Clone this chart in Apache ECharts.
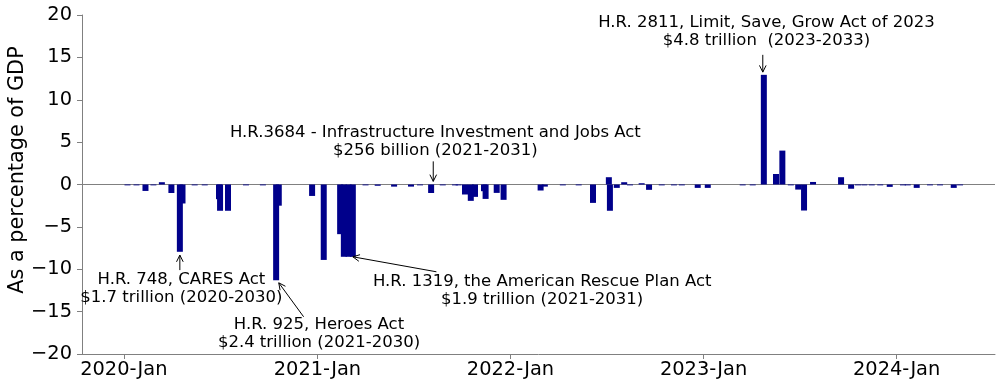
<!DOCTYPE html>
<html>
<head>
<meta charset="utf-8">
<script src="https://cdn.jsdelivr.net/npm/echarts@6/dist/echarts.min.js"></script>
<style>
  html, body { margin: 0; padding: 0; background: #ffffff; }
  #chart { width: 996px; height: 383px; }
</style>
</head>
<body>
<div id="chart"></div>
<script>
// Budgetary effect of enacted / passed bills, by date of cost estimate (% of GDP)
const billDates = [
  '2020-01-08', '2020-01-25', '2020-02-11', '2020-02-26', '2020-03-13', '2020-03-31',
  '2020-04-16', '2020-04-21', '2020-05-14', '2020-06-02', '2020-06-29', '2020-07-01',
  '2020-07-16', '2020-08-19', '2020-09-20', '2020-10-15', '2020-10-20', '2020-12-22',
  '2021-01-13', '2021-02-13', '2021-02-20', '2021-03-01', '2021-03-09', '2021-04-02',
  '2021-04-25', '2021-05-26', '2021-06-27', '2021-07-14', '2021-08-04', '2021-08-26',
  '2021-09-18', '2021-09-25', '2021-10-07', '2021-10-18', '2021-10-26', '2021-11-12',
  '2021-11-15', '2021-12-06', '2021-12-19', '2022-02-27', '2022-03-07', '2022-04-10',
  '2022-05-10', '2022-06-06', '2022-07-06', '2022-07-08', '2022-07-21', '2022-08-04',
  '2022-08-15', '2022-09-06', '2022-09-20', '2022-10-14', '2022-11-06', '2022-11-21',
  '2022-12-21', '2023-01-09', '2023-03-16', '2023-04-04', '2023-04-25', '2023-05-18',
  '2023-05-30', '2023-06-15', '2023-06-29', '2023-07-10', '2023-07-27', '2023-09-18',
  '2023-10-07', '2023-10-20', '2023-11-01', '2023-11-15', '2023-12-01', '2023-12-19',
  '2024-01-13', '2024-01-22', '2024-02-08', '2024-03-04', '2024-03-23', '2024-04-18',
  '2024-04-30'
];
const billShares = [
  -0.1, -0.1, -0.76, -0.1, 0.27, -1.0,
  -7.94, -2.24, -0.1, -0.1, -1.73, -3.1,
  -3.1, -0.1, -0.1, -11.3, -2.5, -1.35,
  -8.9, -5.86, -8.53, -8.53, -8.53, -0.1,
  -0.15, -0.25, -0.25, -0.1, -1.0, -0.1,
  -0.1, -0.1, -1.18, -1.93, -1.46, -0.79,
  -1.7, -0.99, -1.81, -0.71, -0.25, -0.1,
  -0.1, -2.17, 0.86, -3.1, -0.4, 0.27,
  -0.1, 0.15, -0.63, -0.1, -0.1, -0.1,
  -0.4, -0.4, -0.1, -0.1, 12.94, 1.24,
  4.0, -0.1, -0.6, -3.07, 0.3, 0.86,
  -0.5, -0.1, -0.1, -0.1, -0.1, -0.28,
  -0.1, -0.1, -0.4, -0.1, -0.1, -0.4,
  -0.1
];

// Axis extents and ticks
const xStart = '2019-10-14';
const xEnd = '2024-07-05';
const yearTicks = ['2020-01-01', '2021-01-01', '2022-01-01', '2023-01-01', '2024-01-01'];
const yMin = -20, yMax = 20, yStep = 5;

// Annotations: text, text centre, arrow tail, arrow tip (date, % of GDP)
const noteTexts = [
  'H.R. 748, CARES Act\n$1.7 trillion (2020-2030)',
  'H.R. 925, Heroes Act\n$2.4 trillion (2021-2030)',
  'H.R. 1319, the American Rescue Plan Act\n$1.9 trillion (2021-2031)',
  'H.R.3684 - Infrastructure Investment and Jobs Act\n$256 billion (2021-2031)',
  'H.R. 2811, Limit, Save, Grow Act of 2023\n$4.8 trillion  (2023-2033)'
];
const noteCentres = [
  ['2020-04-19', -12.34],
  ['2021-01-04', -17.66],
  ['2022-03-02', -12.52],
  ['2021-08-12', 5.06],
  ['2023-04-30', 18.02]
];
const arrowTails = [
  ['2020-04-16', -10.1],
  ['2020-12-06', -15.61],
  ['2021-08-14', -10.3],
  ['2021-08-08', 2.73],
  ['2023-04-23', 15.3]
];
const arrowTips = [
  ['2020-04-16', -8.33],
  ['2020-10-20', -11.6],
  ['2021-03-09', -8.53],
  ['2021-08-08', 0.37],
  ['2023-04-23', 13.26]
];

const FONT = 'DejaVu Sans';
const AXIS_GREY = '#808080';
const BAR_BLUE = '#00008b';
const DAY = 86400000;
// Dates are placed on a linear (millisecond) axis, UTC midnight
const t = (s) => Date.UTC(+s.slice(0, 4), +s.slice(5, 7) - 1, +s.slice(8, 10));

const chart = echarts.init(document.getElementById('chart'), null, { renderer: 'canvas' });

const barData = billDates.map((d, i) => [t(d), billShares[i]]);
const noteData = noteTexts.map((_, i) => [
  t(noteCentres[i][0]), noteCentres[i][1],
  t(arrowTails[i][0]), arrowTails[i][1],
  t(arrowTips[i][0]), arrowTips[i][1]
]);
const yearTickValues = yearTicks.map(t);

function drawNote(params, api) {
  const i = params.dataIndex;
  const c = api.coord([api.value(0), api.value(1)]);
  const a = api.coord([api.value(2), api.value(3)]);
  const b = api.coord([api.value(4), api.value(5)]);
  const ang = Math.atan2(b[1] - a[1], b[0] - a[0]);
  const headLen = 7.5, headAng = 0.46;
  const h1 = [b[0] - headLen * Math.cos(ang - headAng), b[1] - headLen * Math.sin(ang - headAng)];
  const h2 = [b[0] - headLen * Math.cos(ang + headAng), b[1] - headLen * Math.sin(ang + headAng)];
  return {
    type: 'group',
    children: [
      { type: 'line', shape: { x1: a[0], y1: a[1], x2: b[0], y2: b[1] },
        style: { stroke: '#000', lineWidth: 1 } },
      { type: 'polyline', shape: { points: [h1, b, h2] },
        style: { stroke: '#000', lineWidth: 1, fill: null } },
      { type: 'text', x: c[0], y: c[1],
        style: { text: noteTexts[i], fill: '#000', fontFamily: FONT, fontSize: 16.5,
                 lineHeight: 18, align: 'center', verticalAlign: 'middle' } }
    ]
  };
}

chart.setOption({
  animation: false,
  backgroundColor: '#ffffff',
  textStyle: { fontFamily: FONT },
  grid: { left: 82, right: 1, top: 15, bottom: 29, containLabel: false },
  graphic: [{
    type: 'text', x: 18, y: 170, rotation: Math.PI / 2,
    style: { text: 'As a percentage of GDP', fill: '#000', fontFamily: FONT, fontSize: 20.8,
             align: 'center', verticalAlign: 'middle' }
  }],
  xAxis: {
    type: 'value',
    min: t(xStart),
    max: t(xEnd),
    axisLine: { show: true, onZero: false, lineStyle: { color: AXIS_GREY, width: 1 } },
    axisTick: { show: true, length: 5, lineStyle: { color: AXIS_GREY },
                customValues: yearTickValues },
    axisLabel: {
      show: true, customValues: yearTickValues, showMinLabel: true, showMaxLabel: true,
      color: '#000', fontFamily: FONT, fontSize: 19.4, margin: 6,
      formatter: (v) => new Date(v).getUTCFullYear() + '-Jan'
    },
    splitLine: { show: false }
  },
  yAxis: {
    type: 'value',
    min: yMin, max: yMax, interval: yStep,
    axisLine: { show: true, lineStyle: { color: AXIS_GREY, width: 1 } },
    axisTick: { show: true, length: 5, lineStyle: { color: AXIS_GREY } },
    axisLabel: {
      color: '#000', fontFamily: FONT, fontSize: 19.4, margin: 10,
      formatter: (v) => String(v).replace('-', '\u2212')
    },
    splitLine: { show: false }
  },
  series: [
    {
      name: 'zero',
      type: 'line',
      z: 1,
      silent: true,
      symbol: 'none',
      data: [[t(xStart), 0], [t(xEnd), 0]],
      lineStyle: { color: AXIS_GREY, width: 1.2 }
    },
    {
      name: 'bills',
      type: 'bar',
      z: 2,
      barWidth: 6,
      data: barData,
      itemStyle: { color: BAR_BLUE }
    },
    {
      name: 'notes',
      type: 'custom',
      z: 3,
      silent: true,
      clip: false,
      renderItem: drawNote,
      encode: { x: [0, 2, 4], y: [1, 3, 5] },
      data: noteData
    }
  ]
});
</script>
</body>
</html>
